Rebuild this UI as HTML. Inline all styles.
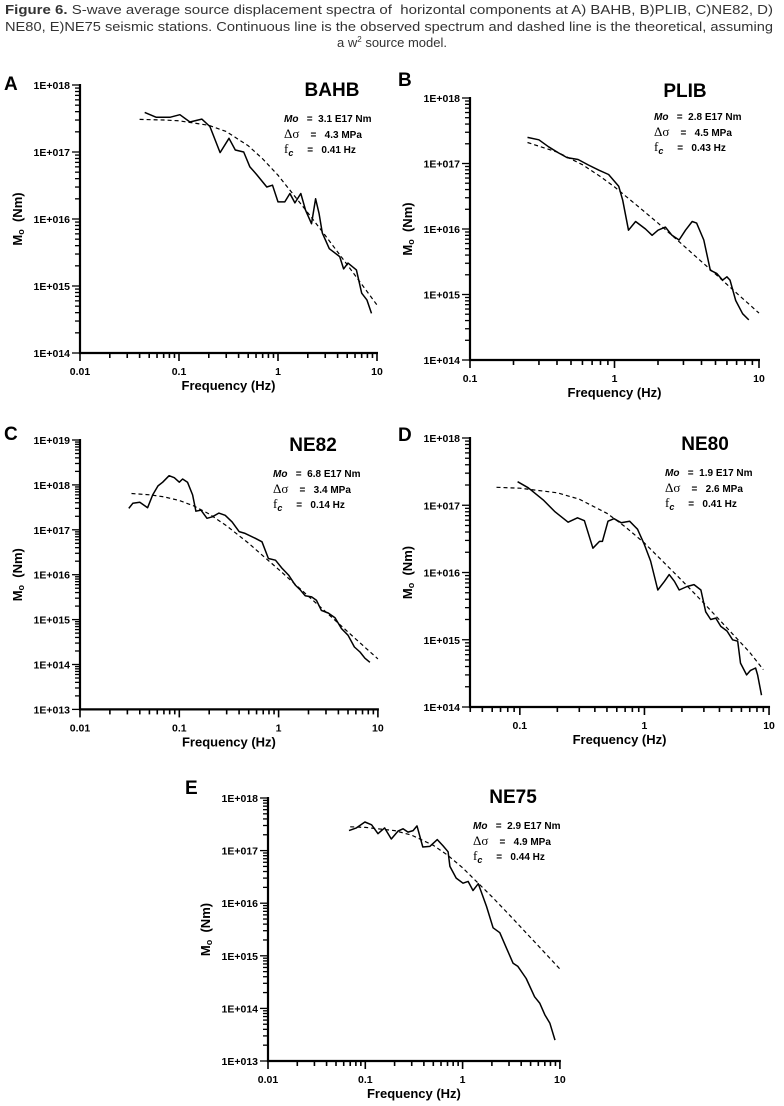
<!DOCTYPE html>
<html><head><meta charset="utf-8"><style>
html,body{margin:0;padding:0;background:#fff}
svg{display:block}
text{font-family:"Liberation Sans",Arial,sans-serif;white-space:pre}
</style></head><body>
<svg id="fig" width="784" height="1106" viewBox="0 0 784 1106" xmlns="http://www.w3.org/2000/svg" xml:space="preserve">
<g font-size="13" fill="#333">
<text x="5" y="14" textLength="768" lengthAdjust="spacingAndGlyphs"><tspan font-weight="bold">Figure 6.</tspan> S-wave average source displacement spectra of  horizontal components at A) BAHB, B)PLIB, C)NE82, D)</text>
<text x="5" y="31" textLength="768" lengthAdjust="spacingAndGlyphs">NE80, E)NE75 seismic stations. Continuous line is the observed spectrum and dashed line is the theoretical, assuming</text>
<text x="392" y="47" text-anchor="middle">a w<tspan font-size="8" dy="-5">2</tspan><tspan dy="5"> source model.</tspan></text>
</g>
</svg>
<script>
// ---- Panel A (BAHB)
const aObsF=[0.045,0.059,0.081,0.102,0.129,0.17,0.205,0.26,0.32,0.37,0.45,0.52,0.61,0.77,0.88,1.0,1.17,1.32,1.48,1.7,1.9,2.18,2.4,2.6,2.8,3.3,4.2,4.6,5.1,6.2,7.0,7.9,8.8];
const aObsM=[3.9e17,3.3e17,3.3e17,3.6e17,2.8e17,3.1e17,2.4e17,9.8e16,1.6e17,1.07e17,1.0e17,6.0e16,4.6e16,3.0e16,3.2e16,1.8e16,1.8e16,2.4e16,1.74e16,2.4e16,1.35e16,8.5e15,2.0e16,1.2e16,6.2e15,3.6e15,2.75e15,1.8e15,2.2e15,1.74e15,7.8e14,6.2e14,3.9e14];
const aThF=[0.04,0.07,0.1,0.2,0.3,0.5,0.7,1,2,3,5,7,10];
const aThM=[3.07e17,3.0e17,2.92e17,2.5e17,2.02e17,1.24e17,7.9e16,4.5e16,1.24e16,5.7e15,2.08e15,1.06e15,5.2e14];
// ---- Panel B (PLIB)
const bObsF=[0.25,0.30,0.35,0.41,0.47,0.56,0.66,0.78,0.91,1.07,1.14,1.25,1.4,1.64,1.82,2.0,2.25,2.5,2.8,3.1,3.45,3.7,4.15,4.6,5.1,5.6,6.0,6.3,6.9,7.7,8.5];
const bObsM=[2.5e17,2.3e17,1.8e17,1.45e17,1.23e17,1.15e17,9.5e16,7.9e16,6.8e16,4.5e16,2.75e16,9.6e15,1.3e16,1.0e16,8.0e15,9.6e15,1.07e16,8.0e15,6.8e15,9.6e15,1.3e16,1.23e16,6.8e15,2.35e15,2.1e15,1.66e15,1.86e15,1.66e15,8.1e14,5.1e14,4.1e14];
const bThF=[0.25,0.4,0.6,0.8,1,1.5,2,3,5,7,10];
const bThM=[2.09e17,1.5e17,9.6e16,6.3e16,4.4e16,2.1e16,1.23e16,5.6e15,2.05e15,1.05e15,5.2e14];
// ---- Panel C (NE82)
const cObsF=[0.031,0.034,0.040,0.048,0.054,0.061,0.068,0.079,0.089,0.1,0.108,0.121,0.136,0.147,0.165,0.19,0.215,0.25,0.29,0.34,0.40,0.46,0.58,0.68,0.79,0.93,1.08,1.26,1.47,1.65,1.85,2.15,2.4,2.7,3.16,3.7,4.3,5.0,5.8,6.6,7.4,8.3];
const cObsM=[3.0e17,3.9e17,4.1e17,3.1e17,6.0e17,9.5e17,1.15e18,1.6e18,1.45e18,1.15e18,1.35e18,1.15e18,6.0e17,2.6e17,2.75e17,1.8e17,1.95e17,2.35e17,2.1e17,1.5e17,9.1e16,8.3e16,6.5e16,5.4e16,2.3e16,2.1e16,1.4e16,9.8e15,5.9e15,4.6e15,3.4e15,3.2e15,2.7e15,1.6e15,1.4e15,1.1e15,6.3e14,4.5e14,2.45e14,1.9e14,1.38e14,1.12e14];
const cThF=[0.033,0.05,0.07,0.1,0.14,0.2,0.3,0.5,0.7,1,2,3,5,7,10];
const cThM=[6.44e17,6.03e17,5.44e17,4.5e17,3.4e17,2.25e17,1.22e17,5.0e16,2.6e16,1.31e16,3.3e15,1.47e15,5.3e14,2.7e14,1.33e14];
// ---- Panel D (NE80)
const dObsF=[0.096,0.117,0.154,0.19,0.244,0.29,0.33,0.386,0.436,0.46,0.51,0.57,0.65,0.76,0.88,1.0,1.12,1.28,1.45,1.58,1.74,1.9,2.2,2.5,2.84,3.1,3.4,3.74,4.1,4.6,5.1,5.6,5.9,6.6,7.1,7.8,8.1,8.7];
const dObsM=[2.24e17,1.82e17,1.2e17,8.1e16,5.6e16,6.5e16,5.9e16,2.3e16,2.9e16,2.9e16,5.8e16,6.3e16,5.5e16,5.8e16,4.4e16,2.6e16,1.48e16,5.5e15,7.4e15,9.3e15,7.4e15,5.5e15,6.2e15,6.6e15,5.5e15,2.6e15,2.0e15,2.1e15,1.58e15,1.35e15,1.0e15,9.5e14,4.5e14,3.0e14,3.5e14,3.8e14,3.0e14,1.5e14];
const dThF=[0.065,0.1,0.2,0.3,0.5,0.7,1,2,3,5,7,9];
const dThM=[1.85e17,1.79e17,1.53e17,1.23e17,7.6e16,4.8e16,2.75e16,7.6e15,3.5e15,1.27e15,6.5e14,3.6e14];
// ---- Panel E (NE75)
const eObsF=[0.068,0.081,0.099,0.116,0.135,0.158,0.185,0.217,0.244,0.275,0.31,0.34,0.39,0.46,0.55,0.63,0.71,0.74,0.86,1.01,1.14,1.28,1.45,1.76,2.06,2.41,2.83,3.3,3.7,4.5,5.5,6.2,7.0,7.9,8.9];
const eObsM=[2.4e17,2.7e17,3.5e17,3.1e17,2.1e17,2.7e17,1.66e17,2.35e17,2.6e17,2.25e17,2.4e17,2.95e17,1.17e17,1.2e17,1.62e17,1.23e17,9.5e16,5.0e16,3.0e16,2.4e16,2.6e16,1.74e16,2.35e16,8.7e15,3.4e15,2.75e15,1.38e15,7.2e14,6.3e14,3.7e14,1.66e14,1.26e14,7.6e13,5.2e13,2.5e13];
const eThF=[0.07,0.1,0.2,0.3,0.5,0.7,1,2,3,5,7,10];
const eThM=[2.83e17,2.76e17,2.4e17,1.96e17,1.26e17,8.2e16,4.7e16,1.33e16,6.1e15,2.22e15,1.14e15,5.6e14];
// ---- tick labels
const xTicksA=["0.01","0.1","1","10"];
const xTicksB=["0.1","1","10"];
const xTicksD=["0.1","1","10"];
const yTicks18_14=["1E+018","1E+017","1E+016","1E+015","1E+014"];
const yTicks19_13=["1E+019","1E+018","1E+017","1E+016","1E+015","1E+014","1E+013"];
const yTicks18_13=["1E+018","1E+017","1E+016","1E+015","1E+014","1E+013"];

const NS="http://www.w3.org/2000/svg";
const svg=document.getElementById('fig');
function mk(tag,attrs,parent){const e=document.createElementNS(NS,tag);for(const k in attrs)e.setAttribute(k,attrs[k]);(parent||svg).appendChild(e);return e;}

function panel(p){
  const g=mk('g',{});
  
  
  const sx=f=>p.x0+(Math.log10(f)-p.lx0)*p.dx;
  const sy=m=>p.y0+(p.ly0-Math.log10(m))*p.dy;
  const xL=p.x0, xR=sx(Math.pow(10,p.lx1)), yT=p.y0, yB=sy(Math.pow(10,p.ly1));
  const yt=mk('g',{stroke:'#000','stroke-width':1.3},g);
  
  
  for(let d=p.ly1;d<p.ly0;d++){
    for(let k=1;k<10;k++){const y=sy(k*Math.pow(10,d));const len=k===1?8:5;mk('line',{x1:xL-len,x2:xL,y1:y,y2:y},yt);}
  }
  mk('line',{x1:xL-8,x2:xL,y1:yT,y2:yT},yt);
  const xt=mk('g',{stroke:'#000','stroke-width':1.6},g);
  
  
  const d0=Math.floor(p.lx0);
  for(let d=d0;d<p.lx1;d++){
    for(let k=1;k<10;k++){const lf=Math.log10(k*Math.pow(10,d));if(lf<p.lx0-1e-6)continue;const x=sx(k*Math.pow(10,d));const len=k===1?8:5;mk('line',{x1:x,x2:x,y1:yB,y2:yB+len},xt);}
  }
  mk('line',{x1:xR,x2:xR,y1:yB,y2:yB+8},xt);
  const ax=mk('path',{d:`M${xL},${yT-1}V${yB}H${xR+1}`,fill:'none',stroke:'#000','stroke-width':2.2},g);
  
  
  p.yTicks.forEach((t,i)=>{const y=sy(Math.pow(10,p.ly0-i));const e=mk('text',{x:xL-10,y:y+4,'text-anchor':'end','font-size':10.5,'font-weight':'bold'},g);e.textContent=t;
    
    });
  p.xTicks.forEach((t,i)=>{const x=sx(Math.pow(10,p.xFirst+i));const e=mk('text',{x:x,y:yB+22,'text-anchor':'middle','font-size':10.5,'font-weight':'bold'},g);e.textContent=t;
    
    });
  const xtit=mk('text',{x:(xL+xR)/2,y:yB+37,'text-anchor':'middle','font-size':13,'font-weight':'bold'},g);
  xtit.textContent='Frequency (Hz)';
  
  
  const yc=(yT+yB)/2;
  const ytit=mk('text',{x:0,y:0,'text-anchor':'middle','font-size':13,'font-weight':'bold',transform:`translate(${p.ytx},${yc}) rotate(-90)`},g);
  ytit.innerHTML='M<tspan font-size="9" dy="2">o</tspan><tspan dy="-2">  (Nm)</tspan>';
  
  
  const pts=(F,M)=>F.map((f,i)=>sx(f).toFixed(1)+','+sy(M[i]).toFixed(1)).join(' ');
  const th=mk('polyline',{points:pts(p.thF,p.thM),fill:'none',stroke:'#000','stroke-width':1.2,'stroke-dasharray':'4,3'},g);
  
  
  const ob=mk('polyline',{points:pts(p.obF,p.obM),fill:'none',stroke:'#000','stroke-width':1.5,'stroke-linejoin':'round'},g);
  
  
  const lt=mk('text',{x:p.lx,y:p.ly,'font-size':19,'font-weight':'bold'},g);
  lt.textContent=p.letter;
  
  
  const tt=mk('text',{x:p.tx,y:p.ty,'text-anchor':'middle','font-size':19,'font-weight':'bold'},g);
  tt.textContent=p.title;
  
  
  const pg=mk('g',{'font-size':10,'font-weight':'bold'},g);
  
  
  const t1=mk('text',{x:p.px,y:p.py},pg);t1.innerHTML=`<tspan font-style="italic">Mo</tspan>   =  ${p.mo}`;
  const t2=mk('text',{x:p.px,y:p.py+16},pg);t2.innerHTML=`<tspan font-family="Liberation Serif,serif" font-weight="normal" font-size="13">Δσ</tspan>    =   ${p.ds}`;
  const t3=mk('text',{x:p.px,y:p.py+31},pg);t3.innerHTML=`<tspan font-family="Liberation Serif,serif" font-weight="normal" font-size="13">f</tspan><tspan font-style="italic" font-size="9" dy="3">c</tspan><tspan dy="-3">     =   ${p.fc}</tspan>`;
}

panel({key:'a',letter:'A',title:'BAHB',x0:80,lx0:-2,lx1:1,dx:99,y0:85,ly0:18,ly1:14,dy:67,yTicks:yTicks18_14,xTicks:xTicksA,xFirst:-2,obF:aObsF,obM:aObsM,thF:aThF,thM:aThM,lx:4,ly:90,tx:332,ty:96,px:284,py:122,mo:'3.1 E17 Nm',ds:'4.3 MPa',fc:'0.41 Hz',ytx:22});
panel({key:'b',letter:'B',title:'PLIB',x0:470,lx0:-1,lx1:1,dx:144.5,y0:98,ly0:18,ly1:14,dy:65.5,yTicks:yTicks18_14,xTicks:xTicksB,xFirst:-1,obF:bObsF,obM:bObsM,thF:bThF,thM:bThM,lx:398,ly:86,tx:685,ty:97,px:654,py:120,mo:'2.8 E17 Nm',ds:'4.5 MPa',fc:'0.43 Hz',ytx:412});
panel({key:'c',letter:'C',title:'NE82',x0:80,lx0:-2,lx1:1,dx:99.3,y0:440,ly0:19,ly1:13,dy:44.9,yTicks:yTicks19_13,xTicks:xTicksA,xFirst:-2,obF:cObsF,obM:cObsM,thF:cThF,thM:cThM,lx:4,ly:440,tx:313,ty:451,px:273,py:477,mo:'6.8 E17 Nm',ds:'3.4 MPa',fc:'0.14 Hz',ytx:22});
panel({key:'d',letter:'D',title:'NE80',x0:470,lx0:-1.4,lx1:1,dx:124.6,y0:438,ly0:18,ly1:14,dy:67.25,yTicks:yTicks18_14,xTicks:xTicksD,xFirst:-1,obF:dObsF,obM:dObsM,thF:dThF,thM:dThM,lx:398,ly:441,tx:705,ty:450,px:665,py:476,mo:'1.9 E17 Nm',ds:'2.6 MPa',fc:'0.41 Hz',ytx:412});
panel({key:'e',letter:'E',title:'NE75',x0:268,lx0:-2,lx1:1,dx:97.3,y0:798,ly0:18,ly1:13,dy:52.6,yTicks:yTicks18_13,xTicks:xTicksA,xFirst:-2,obF:eObsF,obM:eObsM,thF:eThF,thM:eThM,lx:185,ly:794,tx:513,ty:803,px:473,py:829,mo:'2.9 E17 Nm',ds:'4.9 MPa',fc:'0.44 Hz',ytx:210});
</script>
</body></html>
